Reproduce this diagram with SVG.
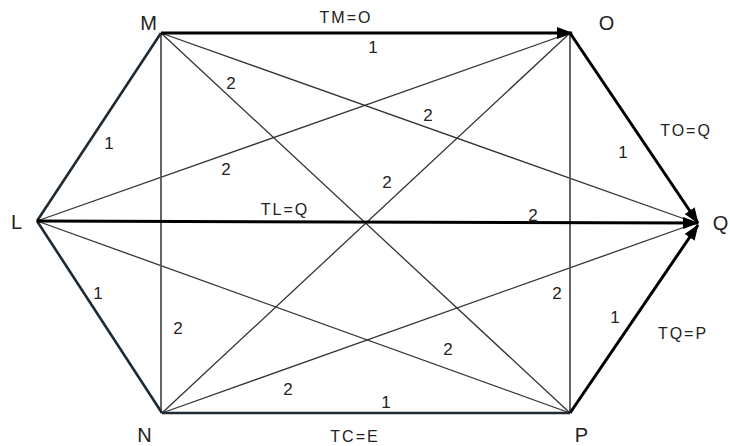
<svg xmlns="http://www.w3.org/2000/svg" width="730" height="446" viewBox="0 0 730 446">
<defs>
<marker id="ah" markerWidth="16" markerHeight="12" refX="15" refY="6" orient="auto" markerUnits="userSpaceOnUse">
<path d="M0,0 L16,6 L0,12 Z" fill="#000"/>
</marker>
<style>
.bold{stroke:#000;stroke-width:3;fill:none}
.edge{stroke:#1e2a33;stroke-width:2.6;fill:none}
.vert{stroke:#555;stroke-width:1.8;fill:none}
.thin{stroke:#333;stroke-width:1.3;fill:none}
text{font-family:"Liberation Sans",Arial,sans-serif;fill:#222}
.node{font-size:20px;letter-spacing:1px}
.lab{font-size:16px;letter-spacing:2px}
.num{font-size:17px}
</style>
</defs>
<rect width="730" height="446" fill="#fff"/>
<g id="connectors">
<line class="thin" x1="161" y1="33" x2="570" y2="413"/>
<line class="thin" x1="161" y1="33" x2="696" y2="223"/>
<line class="thin" x1="162" y1="413" x2="570" y2="33"/>
<line class="thin" x1="162" y1="413" x2="696" y2="223"/>
<line class="thin" x1="37" y1="221" x2="570" y2="33"/>
<line class="thin" x1="37" y1="221" x2="570" y2="413"/>
<line class="vert" x1="161" y1="33" x2="161" y2="413"/>
<line class="vert" x1="570" y1="33" x2="570" y2="413"/>
<line class="edge" x1="161" y1="33" x2="37" y2="221"/>
<line class="edge" x1="37" y1="221" x2="162" y2="413"/>
<line class="edge" x1="162" y1="413" x2="570" y2="413"/>
<line class="bold" x1="161" y1="33" x2="572" y2="33" marker-end="url(#ah)"/>
<line class="bold" x1="570" y1="33" x2="698" y2="223" marker-end="url(#ah)"/>
<line class="bold" x1="37" y1="221" x2="698" y2="223" marker-end="url(#ah)"/>
<line class="bold" x1="570" y1="413" x2="698" y2="225" marker-end="url(#ah)"/>
</g>
<g id="node-M"><text class="node" x="149" y="30" text-anchor="middle">M</text></g>
<g id="node-O"><text class="node" x="607" y="30" text-anchor="middle">O</text></g>
<g id="node-L"><text class="node" x="17" y="229" text-anchor="middle">L</text></g>
<g id="node-Q"><text class="node" x="721" y="230" text-anchor="middle">Q</text></g>
<g id="node-N"><text class="node" x="145" y="442" text-anchor="middle">N</text></g>
<g id="node-P"><text class="node" x="582" y="442" text-anchor="middle">P</text></g>
<g id="labels">
<text class="lab" x="346" y="23" text-anchor="middle">TM=O</text>
<text class="lab" x="285" y="215" text-anchor="middle">TL=Q</text>
<text class="lab" x="686" y="136" text-anchor="middle">TO=Q</text>
<text class="lab" x="683" y="339" text-anchor="middle">TQ=P</text>
<text class="lab" x="355" y="442" text-anchor="middle">TC=E</text>
<text class="num" x="373" y="53" text-anchor="middle">1</text>
<text class="num" x="231" y="89" text-anchor="middle">2</text>
<text class="num" x="428" y="121" text-anchor="middle">2</text>
<text class="num" x="109" y="149" text-anchor="middle">1</text>
<text class="num" x="226" y="175" text-anchor="middle">2</text>
<text class="num" x="387" y="188" text-anchor="middle">2</text>
<text class="num" x="533" y="221" text-anchor="middle">2</text>
<text class="num" x="623" y="158" text-anchor="middle">1</text>
<text class="num" x="98" y="299" text-anchor="middle">1</text>
<text class="num" x="557" y="299" text-anchor="middle">2</text>
<text class="num" x="615" y="323" text-anchor="middle">1</text>
<text class="num" x="178" y="334" text-anchor="middle">2</text>
<text class="num" x="448" y="355" text-anchor="middle">2</text>
<text class="num" x="288" y="395" text-anchor="middle">2</text>
<text class="num" x="386" y="408" text-anchor="middle">1</text>
</g>
</svg>
